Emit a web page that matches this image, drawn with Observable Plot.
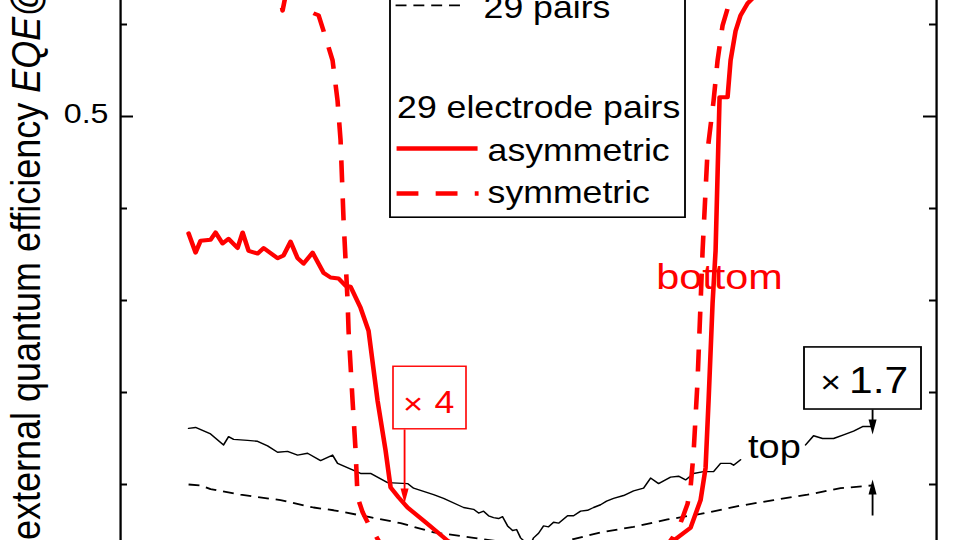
<!DOCTYPE html>
<html>
<head>
<meta charset="utf-8">
<script src="https://cdn.jsdelivr.net/npm/d3@7"></script>
<script src="https://cdn.jsdelivr.net/npm/@observablehq/plot@0.6"></script>
<style>
  html, body { margin: 0; padding: 0; background: #fff; overflow: hidden; }
</style>
</head>
<body>
<div id="chart"></div>
<script>
// ---------------- data (x: position, mm; y: EQE) ----------------
// 29 electrode pairs, asymmetric (bottom, x4)
const asymX = [0.68,0.75,0.80,0.90,0.95,1.02,1.08,1.17,1.22,1.28,1.37,1.43,1.57,1.63,1.70,1.77,1.83,1.92,2.03,2.10,2.18,2.25,2.30,2.40,2.48,2.57,2.65,2.70,2.78,2.87,3.05,3.27,3.60,4.10,4.80,5.40,5.53,5.70,5.80,5.85,5.88,5.92,5.95,5.99,6.07,6.10,6.15,6.20,6.27,6.40,6.70];
const asymY = [0.373,0.352,0.365,0.366,0.374,0.362,0.367,0.357,0.374,0.354,0.351,0.357,0.346,0.349,0.364,0.346,0.340,0.352,0.330,0.325,0.324,0.316,0.315,0.292,0.267,0.191,0.137,0.097,0.086,0.075,0.059,0.039,0.017,0.007,0.007,0.023,0.039,0.053,0.083,0.118,0.191,0.297,0.354,0.521,0.521,0.561,0.593,0.610,0.623,0.637,0.665];

// 29 electrode pairs, symmetric (bottom)
const symX = [1.55,1.62,1.68,1.80,1.88,1.91,1.98,2.03,2.12,2.17,2.20,2.23,2.27,2.28,2.32,2.35,2.37,2.42,2.47,2.58,2.80,3.30,4.10,4.90,5.30,5.50,5.57,5.62,5.67,5.70,5.73,5.77,5.80,5.82,5.87,5.93,5.97,6.02,6.08,6.20];
const symY = [0.659,0.615,0.648,0.642,0.628,0.613,0.610,0.593,0.561,0.517,0.474,0.387,0.300,0.267,0.191,0.137,0.086,0.070,0.059,0.039,0.012,0.002,0.001,0.002,0.017,0.039,0.050,0.064,0.079,0.097,0.134,0.213,0.297,0.354,0.463,0.517,0.561,0.599,0.621,0.648];

// top, solid black (gap where the "top" label sits)
const topSolidX = [0.68,0.75,0.90,1.03,1.08,1.13,1.27,1.37,1.47,1.57,1.67,1.77,1.87,2.00,2.12,2.17,2.40,2.50,2.67,2.87,2.93,3.13,3.23,3.43,3.53,3.58,3.63,3.68,3.73,3.78,3.82,3.87,3.92,3.96,4.00,4.04,4.08,4.13,4.18,4.23,4.28,4.33,4.38,4.47,4.53,4.60,4.67,4.73,4.80,4.86,4.93,5.03,5.13,5.23,5.30,5.38,5.50,5.58,5.65,5.73,5.83,5.93,6.00,6.10,6.13,6.20,null,6.85,6.93,7.02,7.13,7.23,7.33,7.42,7.52];
const topSolidY = [0.161,0.162,0.155,0.143,0.152,0.149,0.148,0.147,0.142,0.135,0.136,0.132,0.134,0.126,0.132,0.123,0.112,0.112,0.102,0.101,0.096,0.089,0.085,0.075,0.073,0.069,0.071,0.066,0.064,0.063,0.065,0.055,0.050,0.051,0.042,0.038,0.030,0.042,0.047,0.055,0.054,0.059,0.058,0.066,0.066,0.071,0.072,0.075,0.078,0.082,0.085,0.088,0.093,0.096,0.107,0.101,0.108,0.109,0.105,0.112,0.114,0.114,0.123,0.123,0.121,0.127,null,0.143,0.153,0.150,0.150,0.154,0.158,0.163,0.163];

// top, 29 pairs, dashed black
const topDashX = [0.68,0.80,0.90,1.20,1.60,1.93,2.13,2.47,2.80,3.13,3.53,3.80,4.10,4.47,4.80,5.13,5.47,5.80,6.20,6.53,6.87,7.20,7.52];
const topDashY = [0.100,0.099,0.095,0.089,0.083,0.075,0.072,0.065,0.058,0.048,0.042,0.038,0.034,0.039,0.048,0.054,0.062,0.068,0.077,0.083,0.089,0.096,0.099];

// y axis ticks
const yMajorTicks = [0, 0.5, 1.0];
const yMinorTicks = [0.1, 0.2, 0.3, 0.4, 0.6, 0.7, 0.8, 0.9];
const yTickValues = [0.5];
const yTickLabels = ["0.5"];
const yLabelParts = ["external quantum efficiency ", "EQE@"];

// legend entries
const legendTexts = ["29 pairs", "29 electrode pairs", "asymmetric", "symmetric"];

// ---------------- layout ----------------
const W = 835, H = 540, S = 960 / W;   // drawn narrower, stretched horizontally
const xDomain = [0, 8.16];
const RED = "#ff0000";
const FONT = "'Liberation Sans', Arial, Helvetica, sans-serif";
const pts = (xs, ys) => xs.map((x, i) => ({x, y: ys[i]}));

const headDown = {draw(c) { c.moveTo(0, 0); c.lineTo(-3.5, -15); c.lineTo(3.5, -15); c.closePath(); }};
const headUp   = {draw(c) { c.moveTo(0, 0); c.lineTo(-3.5, 15); c.lineTo(3.5, 15); c.closePath(); }};

const blackBoxes = [{x1: 2.70, x2: 5.65, y1: 0.390, y2: 0.80}, {x1: 6.84, x2: 8.01, y1: 0.1815, y2: 0.249}];
const redBoxes = [{x1: 2.73, x2: 3.46, y1: 0.160, y2: 0.228}];

const legendRows = [
  {text: legendTexts[0], x: 3.63, y: 0.6076},
  {text: legendTexts[1], x: 2.765, y: 0.4989},
  {text: legendTexts[2], x: 3.67, y: 0.452},
  {text: legendTexts[3], x: 3.67, y: 0.4065}
];

const plot = Plot.plot({
  width: W,
  height: H,
  margin: 0,
  style: {fontFamily: FONT, background: "white"},
  x: {domain: xDomain, range: [120 / S, 936 / S], axis: null},
  y: {domain: [0, 1], range: [576, -344], axis: null},
  marks: [
    // frame (left and right axes)
    Plot.ruleX(xDomain, {x: d => d, y1: -0.05, y2: 0.75, stroke: "black", strokeWidth: 2}),
    // ticks pointing inward
    Plot.ruleY(yMajorTicks, {y: d => d, x1: xDomain[0], x2: xDomain[0] + 0.13, stroke: "black", strokeWidth: 2}),
    Plot.ruleY(yMinorTicks, {y: d => d, x1: xDomain[0], x2: xDomain[0] + 0.07, stroke: "black", strokeWidth: 2}),
    Plot.ruleY(yMajorTicks, {y: d => d, x1: xDomain[1] - 0.13, x2: xDomain[1], stroke: "black", strokeWidth: 2}),
    Plot.ruleY(yMinorTicks, {y: d => d, x1: xDomain[1] - 0.07, x2: xDomain[1], stroke: "black", strokeWidth: 2}),
    Plot.text(yTickValues, {x: xDomain[0], y: d => d, text: (d, i) => yTickLabels[i], textAnchor: "end", lineAnchor: "middle", dx: -10.5, dy: -2, fontSize: 28, fill: "black"}),

    // curves
    Plot.line(pts(topDashX, topDashY), {x: "x", y: "y", stroke: "black", strokeWidth: 1.8, strokeDasharray: "9.5,6", strokeLinecap: "butt"}),
    Plot.line(pts(topSolidX, topSolidY), {x: "x", y: "y", stroke: "black", strokeWidth: 1.4}),
    Plot.line(pts(symX, symY), {x: "x", y: "y", stroke: RED, strokeWidth: 4, strokeDasharray: "22,16", strokeLinecap: "butt", strokeLinejoin: "round"}),
    Plot.line(pts(asymX, asymY), {x: "x", y: "y", stroke: RED, strokeWidth: 4, strokeLinejoin: "round"}),

    // boxes
    Plot.rect(blackBoxes, {x1: "x1", x2: "x2", y1: "y1", y2: "y2", fill: "white", stroke: "black", strokeWidth: 1.6}),
    Plot.rect(redBoxes, {x1: "x1", x2: "x2", y1: "y1", y2: "y2", fill: "white", stroke: RED, strokeWidth: 1.4}),

    // legend samples
    Plot.link([{x1: 2.75, x2: 3.43, y: 0.6207}], {x1: "x1", x2: "x2", y1: "y", y2: "y", stroke: "black", strokeWidth: 1.8, strokeDasharray: "9.5,6", strokeLinecap: "butt"}),
    Plot.link([{x1: 2.76, x2: 3.57, y: 0.4652}], {x1: "x1", x2: "x2", y1: "y", y2: "y", stroke: RED, strokeWidth: 4.5, strokeLinecap: "butt"}),
    Plot.link([{x1: 2.76, x2: 3.58, y: 0.4163}], {x1: "x1", x2: "x2", y1: "y", y2: "y", stroke: RED, strokeWidth: 4.5, strokeDasharray: "19,15", strokeLinecap: "butt"}),
    Plot.text(legendRows, {x: "x", y: "y", text: "text", textAnchor: "start", lineAnchor: "bottom", fontSize: 31, fill: "black"}),

    // annotations
    Plot.text([{text: "bottom", x: 5.99, y: 0.312}], {x: "x", y: "y", text: "text", textAnchor: "middle", lineAnchor: "bottom", fontSize: 36, fill: RED}),
    Plot.text([{text: "top", x: 6.275, y: 0.1293}], {x: "x", y: "y", text: "text", textAnchor: "start", lineAnchor: "bottom", fontSize: 33, fill: "black"}),
    Plot.text([{text: "\u00d7", x: 7.10, y: 0.2103}], {x: "x", y: "y", text: "text", textAnchor: "middle", lineAnchor: "middle", fontSize: 31, fill: "black"}),
    Plot.text([{text: "1.7", x: 7.284, y: 0.200}], {x: "x", y: "y", text: "text", textAnchor: "start", lineAnchor: "bottom", fontSize: 37, fill: "black"}),
    Plot.text([{text: "\u00d7", x: 2.925, y: 0.187}], {x: "x", y: "y", text: "text", textAnchor: "middle", lineAnchor: "middle", fontSize: 30, fill: RED}),
    Plot.text([{text: "4", x: 3.14, y: 0.178}], {x: "x", y: "y", text: "text", textAnchor: "start", lineAnchor: "bottom", fontSize: 31, fill: RED}),

    // arrows
    Plot.link([{x: 2.84, y1: 0.1598, y2: 0.0900}], {x1: "x", x2: "x", y1: "y1", y2: "y2", stroke: RED, strokeWidth: 1.6}),
    Plot.dot([{x: 2.84, y: 0.0793}], {x: "x", y: "y", symbol: headDown, fill: RED, stroke: "none"}),
    Plot.link([{x: 7.52, y1: 0.1815, y2: 0.165}], {x1: "x", x2: "x", y1: "y1", y2: "y2", stroke: "black", strokeWidth: 1.6}),
    Plot.dot([{x: 7.52, y: 0.1543}], {x: "x", y: "y", symbol: headDown, fill: "black", stroke: "none"}),
    Plot.link([{x: 7.52, y1: 0.0663, y2: 0.094}], {x1: "x", x2: "x", y1: "y1", y2: "y2", stroke: "black", strokeWidth: 1.6}),
    Plot.dot([{x: 7.52, y: 0.1054}], {x: "x", y: "y", symbol: headUp, fill: "black", stroke: "none"})
  ]
});

// stretch horizontally to the 960 px page
plot.setAttribute("width", 960);
plot.setAttribute("height", 540);
plot.setAttribute("viewBox", `0 0 ${W} ${H}`);
plot.setAttribute("preserveAspectRatio", "none");
plot.style.width = "960px";
plot.style.height = "540px";
plot.style.maxWidth = "none";

// rotated y-axis title with italic part
const lab = d3.select(plot).append("text")
  .attr("transform", `translate(${40 / S},540) rotate(-90)`)
  .attr("text-anchor", "start")
  .attr("font-size", 36)
  .attr("font-family", FONT)
  .attr("fill", "black")
  .style("white-space", "pre");
lab.append("tspan").text(yLabelParts[0]);
lab.append("tspan").attr("font-style", "italic").text(yLabelParts[1]);

document.getElementById("chart").appendChild(plot);
</script>
</body>
</html>
